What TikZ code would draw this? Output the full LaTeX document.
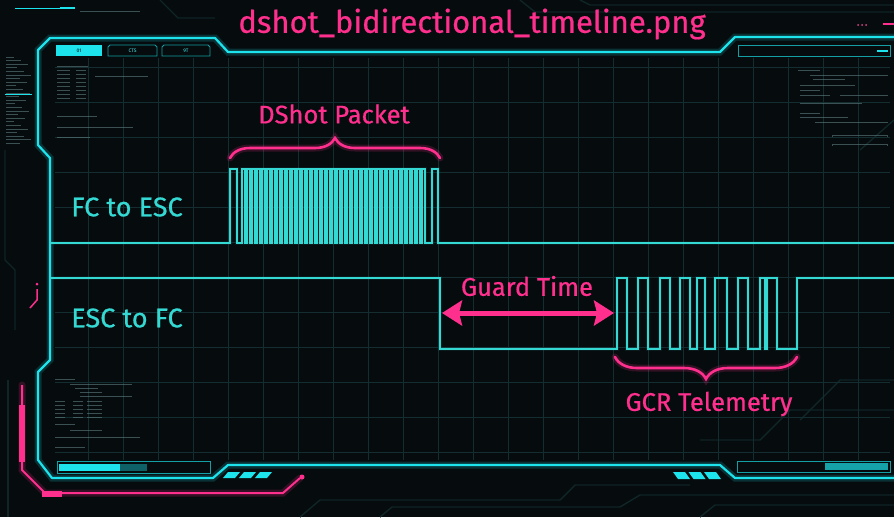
\documentclass[tikz,border=0pt]{standalone}
\usepackage{fontspec}
\setmainfont{Fira Sans}
\newfontfamily\neonfont{Fira Sans}[FakeBold=0.6]
\usetikzlibrary{arrows.meta,decorations.pathreplacing}
\definecolor{BgDark}{HTML}{060B0D}
\definecolor{NeonCyan}{HTML}{1CE3EC}
\definecolor{SigCyan}{HTML}{34D9D3}
\definecolor{NeonPink}{HTML}{FF2F8E}
\definecolor{GridTeal}{HTML}{142D31}
\definecolor{TraceTeal}{HTML}{0F2527}
\definecolor{FaintText}{HTML}{5E7E80}
\tikzset{
	frame/.style={draw=NeonCyan, line width=2.2pt, line join=round,
		preaction={draw=NeonCyan, line width=7pt, opacity=0.18}},
	signal/.style={draw=SigCyan, line width=1.2pt,
		preaction={draw=SigCyan, line width=4pt, opacity=0.08}},
	pinkglow/.style={draw=NeonPink, line width=7pt, opacity=0.18, line cap=round},
	pinkline/.style={draw=NeonPink, line width=2.6pt, line cap=round},
	pinkbrace/.style={decorate, decoration={brace, amplitude=#1}},
	gridline/.style={draw=GridTeal, line width=0.7pt},
	trace/.style={draw=TraceTeal, line width=1.4pt},
	faint/.style={draw=FaintText, line width=0.9pt, opacity=0.6},
	tab/.style={draw=NeonCyan!70!black, line width=0.8pt},
	lbl/.style={font=\neonfont\fontsize{27}{30}\selectfont},
	plbl/.style={font=\neonfont\fontsize{25.5}{30}\selectfont, text=NeonPink}
}

\begin{document}
\begin{tikzpicture}[x=1pt, y=-1pt]
	\useasboundingbox (0,0) rectangle (894,517);
	\fill[BgDark] (0,0) rectangle (894,517);
	
	% circuit traces in the background
	\draw[trace] (160,0) -- (178,18) -- (215,18);
	\draw[trace] (520,0) -- (535,12) -- (894,12);
	\draw[trace] (580,0) -- (590,5) -- (894,5);
	\draw[trace] (5,150) -- (5,260) -- (15,270) -- (15,330);
	\draw[trace] (8,380) -- (8,517);
	\draw[trace] (300,517) -- (320,500) -- (560,500) -- (575,485) -- (690,485);
	\draw[trace] (380,517) -- (392,507) -- (620,507) -- (640,495) -- (894,495);
	\draw[trace] (700,517) -- (715,505) -- (894,505);
	\draw[trace] (860,150) -- (894,120);
	\draw[trace] (800,420) -- (840,380) -- (894,380);
	\draw[trace] (700,440) -- (760,440) -- (790,410) -- (894,410);
	
	% grid
	\foreach \gx in {88,123,...,858}
		\draw[gridline] (\gx,58) -- (\gx,460);
	\foreach \gy in {67,102,...,452}
		\draw[gridline] (55,\gy) -- (890,\gy);
	
	% main frame
	\draw[frame] (894,37) -- (735,37) -- (720,52) -- (228,52) -- (215,38) -- (50,38)
		-- (38,50) -- (38,145) -- (50,158) -- (50,360) -- (38,372) -- (38,460)
		-- (52,478) -- (213,478) -- (228,465) -- (720,465) -- (735,478) -- (894,478);
	
	% pink outer line
	\draw[pinkglow] (22,385) -- (22,470) -- (45,493) -- (283,493) -- (300,478);
	\draw[NeonPink, line width=2pt] (22,385) -- (22,470) -- (45,493) -- (283,493) -- (300,478);
	\fill[NeonPink] (19,405) rectangle (25,462);
	\fill[NeonPink] (42,491) rectangle (62,497);
	\fill[NeonPink] (302,477) circle (2.5);
	\fill[NeonPink] (37,284) circle (1.5);
	\draw[NeonPink, line width=1.5pt] (37,289) -- (37,300) -- (30,308);
	\draw[NeonPink, line width=2.5pt] (883,24) -- (894,24);
	\foreach \d in {858,862,866}
		\fill[NeonPink!70!gray] (\d,25) circle (1);
	
	% tabs
	\node[fill=NeonCyan, minimum width=46, minimum height=11, inner sep=0, font=\fontsize{5}{5}\selectfont, text=BgDark] (tabA) at (79,50.5) {01};
	\draw[tab] (110,45) -- (155,45) -- (157,47) -- (157,56) -- (108,56) -- (108,47) -- cycle;
	\node[font=\fontsize{5}{5}\selectfont, text=NeonCyan!80!white] (tabB) at (132.5,50.5) {CTS};
	\draw[tab] (164,45) -- (208,45) -- (210,47) -- (210,56) -- (162,56) -- (162,47) -- cycle;
	\node[font=\fontsize{5}{5}\selectfont, text=NeonCyan!80!white] (tabC) at (186,50.5) {9T};
	\draw[tab] (738,45) rectangle (890,56);
	\draw[NeonCyan, line width=2pt] (877,50.5) -- (888,50.5);
	
	% status bars
	\draw[tab] (57,461) rectangle (210,473);
	\fill[NeonCyan] (59,464) rectangle (120,471);
	\fill[NeonCyan, opacity=0.4] (120,464) rectangle (147,471);
	\draw[tab] (737,461) rectangle (890,472);
	\fill[NeonCyan, opacity=0.7] (825,463) rectangle (888,470);
	\foreach \k in {0,1,2} {
		\fill[NeonCyan] ({223+16*\k},478) -- ({228+16*\k},472) -- ({240+16*\k},472) -- ({235+16*\k},478) -- cycle;
		\fill[NeonCyan] ({678+15.5*\k},479) -- ({673+15.5*\k},472) -- ({685+15.5*\k},472) -- ({690+15.5*\k},479) -- cycle;
	}
	\draw[NeonCyan, line width=1pt] (15,8) -- (75,8);
	\draw[NeonCyan, line width=2pt] (60,8) -- (75,8);
	\draw[faint] (80,11) -- (140,11);
	
	% panel read-outs
	\draw[faint] (57,66) -- (88,66);
	\foreach \r in {70,74,...,98} {
		\draw[faint] (57,\r) -- (70,\r);
		\draw[faint] (76,\r) -- (86,\r);
	}
	\draw[faint] (95,76) -- (148,76);
	\draw[faint] (57,116) -- (97,116);
	\draw[faint] (57,127) -- (133,127);
	\draw[faint] (57,137) -- (90,137);
	\foreach \i in {0,...,24}
		\draw[faint] (6,{57+3.6*\i}) -- ({14+mod(\i*7,18)},{57+3.6*\i});
	\draw[NeonCyan, line width=1pt] (5,94) -- (32,94);
	\draw[faint] (55,379) -- (75,379);
	\draw[faint] (70,384) -- (132,384);
	\draw[faint] (75,388) -- (98,388);
	\draw[faint] (80,392) -- (102,392);
	\draw[faint] (80,396) -- (132,396);
	\foreach \r in {401,405,...,417} {
		\draw[faint] (55,\r) -- (65,\r);
		\draw[faint] (73,\r) -- (83,\r);
		\draw[faint] (87,\r) -- (102,\r);
	}
	\draw[faint] (55,424) -- (75,424);
	\draw[faint] (70,430) -- (102,430);
	\draw[faint] (55,437) -- (140,437);
	\draw[faint] (55,447) -- (85,447);
	\draw[faint] (798,70) -- (820,70);
	\draw[faint] (810,75) -- (888,75);
	\draw[faint] (813,79) -- (845,79);
	\draw[faint] (800,85) -- (855,85);
	\draw[faint] (800,90) -- (820,90);
	\draw[faint] (800,95) -- (830,95);
	\draw[faint] (840,95) -- (888,95);
	\draw[faint] (800,103) -- (862,103);
	\draw[faint] (800,113) -- (820,113);
	\draw[faint] (800,117) -- (848,117);
	\draw[faint] (815,122) -- (888,122);
	\draw[faint] (832,137) -- (832,135) -- (887,135) -- (887,137);
	\draw[faint] (832,146) -- (832,144) -- (887,144) -- (887,146);
	
	% signals
	\draw[signal] (50,243) -- (230,243) -- (230,169) -- (237,169) -- (237,243)
		\foreach \x in {0,...,36} { -- ({242+5*\x},243) -- ({242+5*\x},169) -- ({245+5*\x},169) -- ({245+5*\x},243) }
		-- (432,243) -- (432,169) -- (438,169) -- (438,243) -- (894,243);
	\coordinate (guardL) at (442,313);
	\coordinate (guardR) at (614,313);
	\draw[signal] (50,278) -- (440,278) -- (440,349) -- (617,349) -- (617,278)
		\foreach \r/\f in {617/627, 638/648, 660/670, 680/690, 697/705, 715/727, 738/748, 760/765, 767/777} { -- (\r,349) -- (\r,278) -- (\f,278) -- (\f,349) }
		-- (797,349) -- (797,278) -- (894,278);
	
	% braces and guard time
	\coordinate (pktL) at (230,158);
	\coordinate (pktR) at (440,158);
	\coordinate (gcrL) at (615,357);
	\coordinate (gcrR) at (797,357);
	\draw[pinkglow, pinkbrace=20pt] (pktL) -- (pktR);
	\draw[pinkline, pinkbrace=20pt] (pktL) -- (pktR);
	\draw[pinkglow, pinkbrace=22pt] (gcrR) -- (gcrL);
	\draw[pinkline, pinkbrace=22pt] (gcrR) -- (gcrL);
	\draw[NeonPink, line width=5pt, {Stealth[length=20pt,width=25pt,inset=3pt]}-{Stealth[length=20pt,width=25pt,inset=3pt]}] (guardL) -- (guardR);
	
	% labels
	\node[text=NeonPink, font=\neonfont\fontsize{31}{34}\selectfont] (title) at (472,24) {dshot\_bidirectional\_timeline.png};
	\node[lbl, text=SigCyan] (fcesc) at (127,207) {FC to ESC};
	\node[lbl, text=SigCyan] (escfc) at (127,318) {ESC to FC};
	\node[plbl] (pkt) at (334,114) {DShot Packet};
	\node[plbl] (guard) at (527,286) {Guard Time};
	\node[plbl] (gcr) at (709,404) {GCR Telemetry};
\end{tikzpicture}
\end{document}
